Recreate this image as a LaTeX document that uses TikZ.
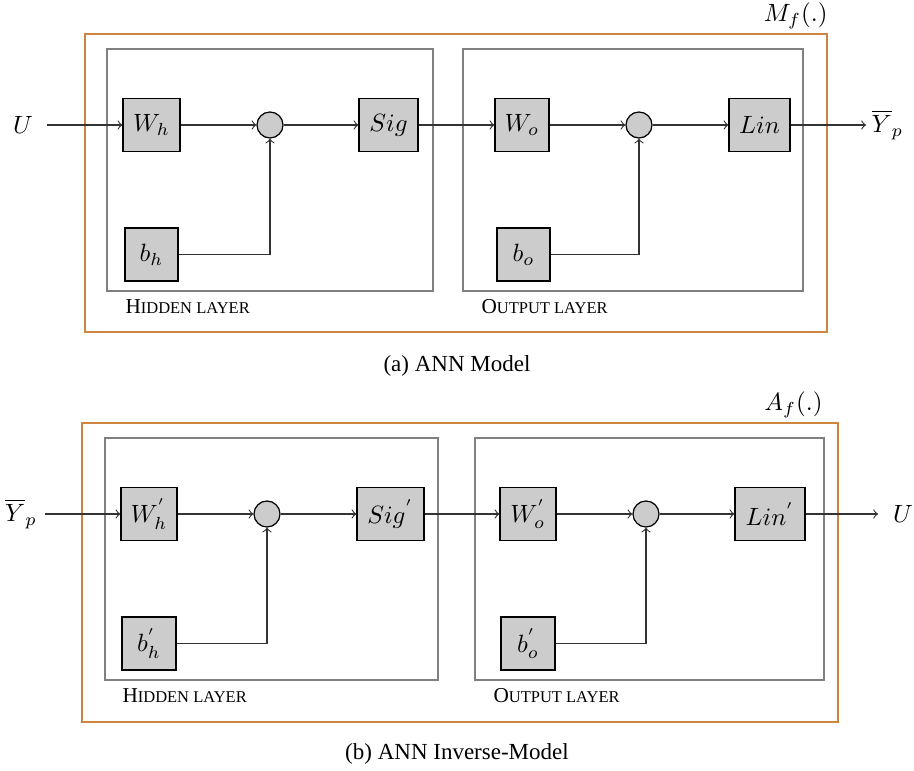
\documentclass[tikz,border=0pt]{standalone}
\usepackage{fontspec}
\setmainfont{Liberation Serif}
\definecolor{orangeline}{RGB}{205,133,63}
\newcommand{\pxu}{0.4pt}
\newcommand{\laytxt}[2]{{\fontsize{8.5}{10}\selectfont #1}{\fontsize{6.6}{8}\selectfont #2}}
\begin{document}
\begin{tikzpicture}[
  x=0.4pt, y=-0.4pt,
  blk/.style={draw=black, fill=black!20, minimum height=53*\pxu, inner sep=0pt, line width=0.5pt},
  sumc/.style={circle, draw=black, fill=black!20, minimum size=26*\pxu, inner sep=0pt, line width=0.5pt},
  layer/.style={draw=black!50, line width=0.95pt},
  model/.style={draw=orangeline, line width=0.95pt},
  conn/.style={draw=black!80, line width=0.45pt, ->},
  lbl/.style={inner sep=0pt},
  lay/.style={anchor=base west, inner sep=0pt},
  capt/.style={inner sep=0pt, font=\fontsize{9.2}{11}\selectfont}
]
\useasboundingbox (0,0) rectangle (914,771);

% ---------------- (a) ANN Model ----------------
\draw[model] (85,34) rectangle (827,332);
\draw[layer] (107,49) rectangle (433,291);
\draw[layer] (463,49) rectangle (803,291);

\node[lbl] (U1) at (23,125) {$U$};
\coordinate (inA) at (47,125);
\node[blk, minimum width=57*\pxu] (Wh) at (151.5,125) {$W_h$};
\node[sumc] (c1) at (270,125) {};
\node[blk, minimum width=59*\pxu] (Sig) at (388.5,125) {$Sig$};
\node[blk, minimum width=53*\pxu] (bh) at (151.5,254.5) {$b_h$};
\node[blk, minimum width=54*\pxu] (Wo) at (522,125) {$W_o$};
\node[sumc] (c2) at (639,125) {};
\node[blk, minimum width=61*\pxu] (Lin) at (759.5,125) {$Lin$};
\node[blk, minimum width=53*\pxu] (bo) at (523.5,254.5) {$b_o$};
\coordinate (outA) at (866,125);
\node[lbl, anchor=west] (Y1) at (871,125) {$\overline{Y}_p$};
\node[lbl, anchor=base east] (Mf) at (828,22) {$M_f(.)$};
\node[lay] (hlA) at (125,314) {\laytxt{H}{IDDEN LAYER}};
\node[lay] (olA) at (481,314) {\laytxt{O}{UTPUT LAYER}};
\node[capt] (capA) at (457,366) {(a) ANN Model};

\draw[conn] (inA) -- (Wh);
\draw[conn] (Wh) -- (c1);
\draw[conn] (c1) -- (Sig);
\draw[conn] (Sig) -- (Wo);
\draw[conn] (Wo) -- (c2);
\draw[conn] (c2) -- (Lin);
\draw[conn] (Lin) -- (outA);
\draw[conn] (bh) -| (c1);
\draw[conn] (bo) -| (c2);

% ---------------- (b) ANN Inverse-Model ----------------
\draw[model] (82,423) rectangle (838,722);
\draw[layer] (105,438) rectangle (438,680);
\draw[layer] (475,438) rectangle (824,680);

\node[lbl] (Y2) at (21,514) {$\overline{Y}_p$};
\coordinate (inB) at (45,514);
\node[blk, minimum width=56*\pxu] (Whi) at (149,514) {$W_h^{'}$};
\node[sumc] (c3) at (267,514) {};
\node[blk, minimum width=67*\pxu] (Sigi) at (390.5,514) {$Sig^{'}$};
\node[blk, minimum width=54*\pxu] (bhi) at (149,643.5) {$b_h^{'}$};
\node[blk, minimum width=56*\pxu] (Woi) at (528,514) {$W_o^{'}$};
\node[sumc] (c4) at (646,514) {};
\node[blk, minimum width=70*\pxu] (Lini) at (770,514) {$Lin^{'}$};
\node[blk, minimum width=54*\pxu] (boi) at (528,643.5) {$b_o^{'}$};
\coordinate (outB) at (878,514);
\node[lbl] (U2) at (903,514) {$U$};
\node[lbl, anchor=base east] (Af) at (823,411) {$A_f(.)$};
\node[lay] (hlB) at (122,703) {\laytxt{H}{IDDEN LAYER}};
\node[lay] (olB) at (493,703) {\laytxt{O}{UTPUT LAYER}};
\node[capt] (capB) at (457,754) {(b) ANN Inverse-Model};

\draw[conn] (inB) -- (Whi);
\draw[conn] (Whi) -- (c3);
\draw[conn] (c3) -- (Sigi);
\draw[conn] (Sigi) -- (Woi);
\draw[conn] (Woi) -- (c4);
\draw[conn] (c4) -- (Lini);
\draw[conn] (Lini) -- (outB);
\draw[conn] (bhi) -| (c3);
\draw[conn] (boi) -| (c4);
\end{tikzpicture}
\end{document}
